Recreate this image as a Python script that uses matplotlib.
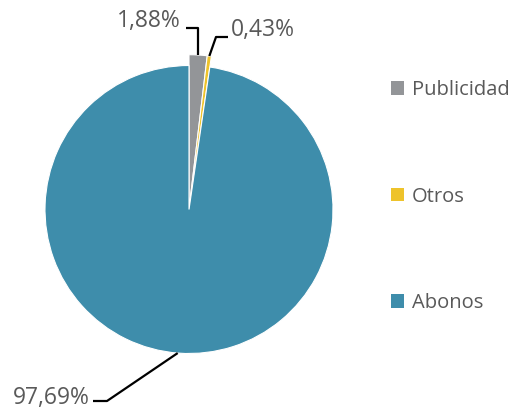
import numpy as np
import matplotlib.pyplot as plt

# datos
categorias = ['Publicidad', 'Otros', 'Abonos']
porcentajes = [1.88, 0.43, 97.69]
etiquetas = ['1,88%', '0,43%', '97,69%']
colores = ['#939598', '#EEC32B', '#3E8DAB']

plt.rcParams['font.family'] = ['Open Sans', 'DejaVu Sans']

fig = plt.figure(figsize=(5.13, 4.12), dpi=100)
ax = fig.add_axes([0, 0, 1, 1])

cx, cy, r = 189, 202.5, 144
wedges, _ = ax.pie(porcentajes, colors=colores, startangle=90, counterclock=False,
                   center=(cx, cy), radius=r, frame=True,
                   wedgeprops=dict(edgecolor='white', linewidth=0.8))
ax.set_xlim(0, 513)
ax.set_ylim(0, 412)
ax.set_aspect('equal')
ax.axis('off')
# las dos porciones pequeñas sobresalen un poco
for w in wedges[:2]:
    w.set_radius(r * 1.075)

# puntos medios de cada porcion
ang = 90 - np.cumsum([0] + porcentajes[:-1]) * 3.6 - np.array(porcentajes) * 1.8
gris = '#595959'

def punto(a, rr):
    a = np.radians(a)
    return cx + rr * np.cos(a), cy + rr * np.sin(a)

# 1,88%
x0, y0 = punto(ang[0], r * 1.075)
ax.plot([x0, x0, 186], [y0, 412 - 28, 412 - 28], color='black', lw=1.6, solid_capstyle='butt')
ax.text(181, 412 - 21, etiquetas[0], ha='right', va='center', fontsize=16.5, color=gris)

# 0,43%
x1, y1 = punto(ang[1], r * 1.075)
ax.plot([x1, 216, 228], [y1, 412 - 37, 412 - 37], color='black', lw=1.6, solid_capstyle='butt')
ax.text(231, 412 - 30, etiquetas[1], ha='left', va='center', fontsize=16.5, color=gris)

# 97,69%
x2, y2 = punto(265.5, r)
ax.plot([x2, 107, 93], [y2, 412 - 401, 412 - 401], color='black', lw=1.6, solid_capstyle='butt')
ax.text(90, 412 - 398, etiquetas[2], ha='right', va='center', fontsize=16.5, color=gris)

leg = ax.legend(wedges, categorias, loc='upper left', bbox_to_anchor=(381 / 513, 1 - 70 / 412),
                frameon=False, fontsize=14.5, labelcolor=gris, handlelength=0.66, handleheight=0.66,
                handletextpad=0.38, labelspacing=4.3, borderpad=0)
for h in leg.legend_handles:
    h.set_edgecolor('none')

fig.savefig('out.png', dpi=100)
